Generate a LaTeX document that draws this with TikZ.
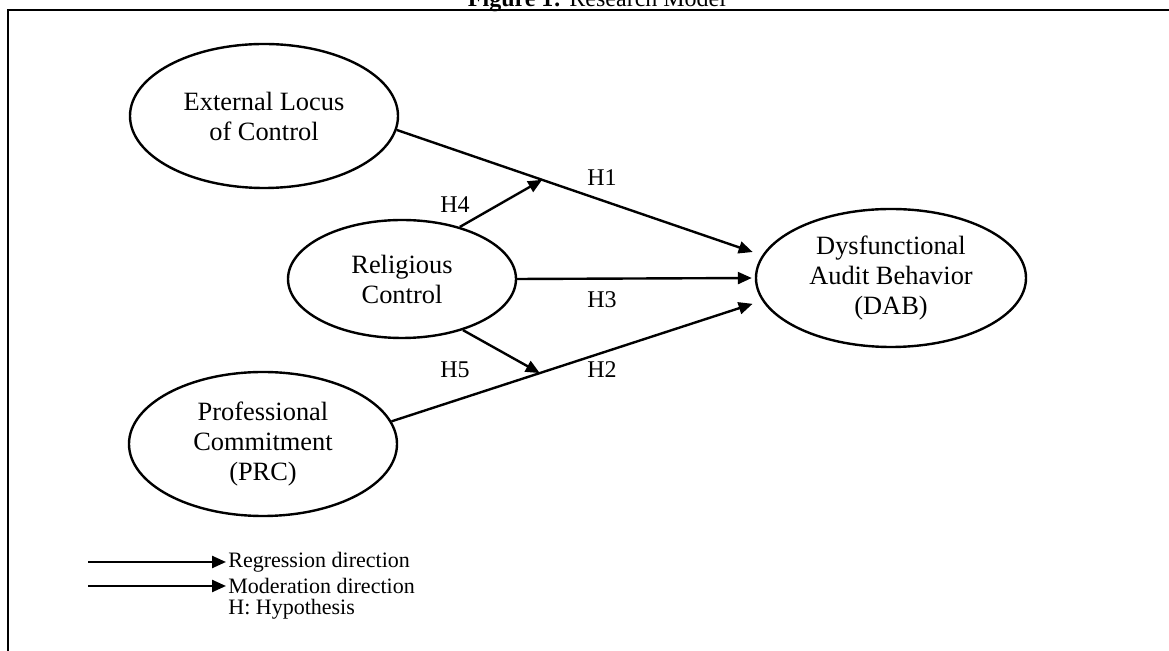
\documentclass[tikz,border=0pt]{standalone}
\usepackage{fontspec}
\setmainfont{Liberation Serif}
\usetikzlibrary{shapes.geometric,arrows.meta}

\begin{document}
\begin{tikzpicture}[x=0.5pt,y=-0.5pt]%
  \tikzstyle{var}=[ellipse,draw,line width=1.2pt,inner sep=0,align=center,font=\fontsize{13.2}{15}\selectfont]
  \tikzstyle{path}=[line width=1.2pt,-{Triangle[length=7pt,width=6pt]}]
  \tikzstyle{hyp}=[font=\fontsize{12}{14}\selectfont]
  \tikzstyle{note}=[anchor=west,inner sep=0,font=\fontsize{11}{12}\selectfont]
  \useasboundingbox (0,0) rectangle (1169,651);
  \draw[line width=1.1pt] (8,10) rectangle (1180,670);
  \node(title) at (597,7) [anchor=base,font=\fontsize{12}{14}\selectfont]{\textbf{Figure 1:} Research Model};
  \node(elc)[var,minimum width=134pt,minimum height=72pt] at (264,116) {External Locus\\of Control};
  \node(rc)[var,minimum width=114pt,minimum height=59pt] at (402,279) {Religious\\Control};
  \node(prc)[var,minimum width=134pt,minimum height=72pt] at (263,444) {Professional\\Commitment\\(PRC)};
  \node(dab)[var,minimum width=135pt,minimum height=69pt] at (891,278) {Dysfunctional\\Audit Behavior\\(DAB)};
  \draw[path,shorten >=5pt] (elc.-6) -- coordinate[pos=0.398](m1) (dab.170);
  \draw[path,shorten >=1.5pt] (rc.east) -- (dab.west);
  \draw[path,shorten >=5pt] (prc.10) -- coordinate[pos=0.40](m2) (dab.190);
  \draw[path] (rc.42) -- (m1);
  \draw[path] (rc.-40) -- (m2);
  \node(h1)[hyp] at (602,178) {H1};
  \node(h4)[hyp] at (455,205) {H4};
  \node(h3)[hyp] at (602,300) {H3};
  \node(h5)[hyp] at (455,370) {H5};
  \node(h2)[hyp] at (602,370) {H2};
  \coordinate(a1) at (88,562);
  \coordinate(a2) at (88,586);
  \node(lreg)[note] at (228,562) {Regression direction};
  \node(lmod)[note] at (228,586) {Moderation direction};
  \node(lh)[note] at (228,609) {H: Hypothesis};
  \draw[path,shorten >=1pt] (a1) -- (lreg.west);
  \draw[path,shorten >=1pt] (a2) -- (lmod.west);
\end{tikzpicture}
\end{document}
